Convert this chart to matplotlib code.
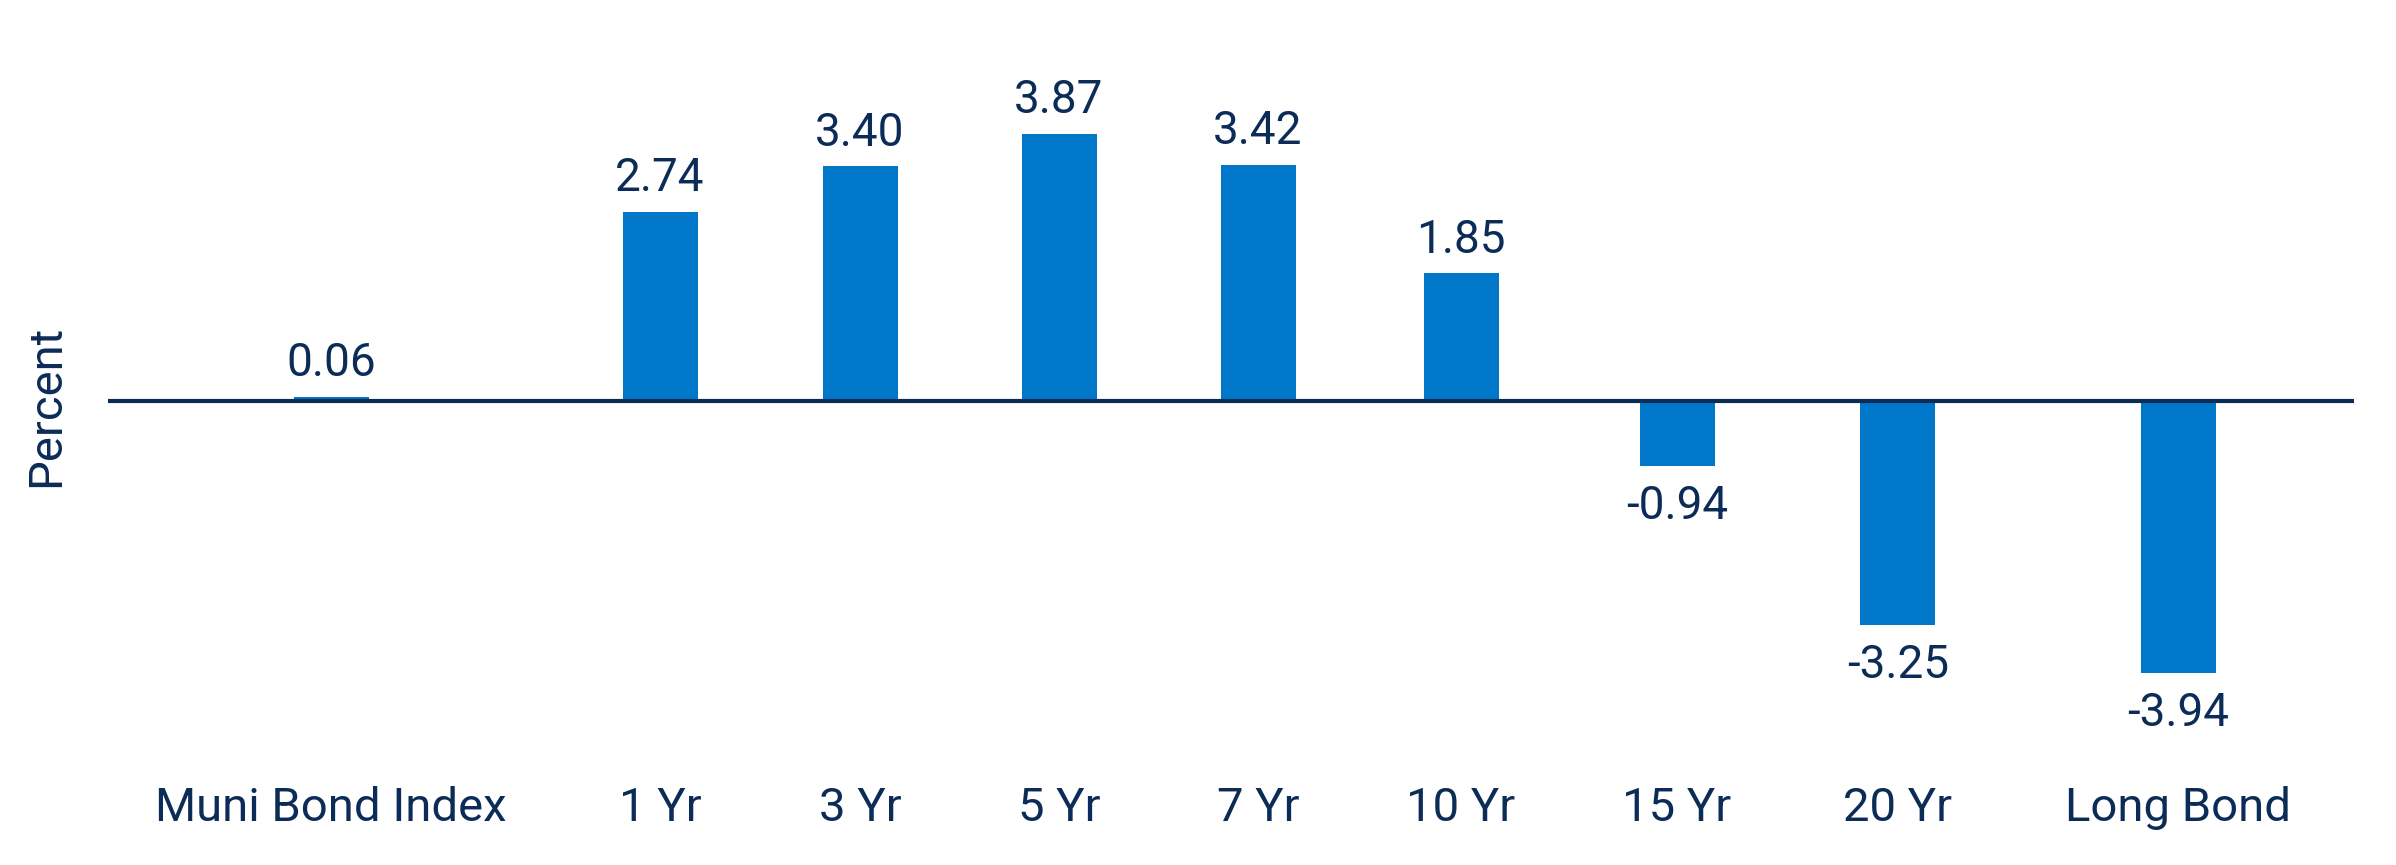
import matplotlib
matplotlib.use("Agg")
from matplotlib import pyplot as plt
import numpy as np

# data
categories = ['Muni Bond Index', '1 Yr', '3 Yr', '5 Yr', '7 Yr', '10 Yr', '15 Yr', '20 Yr', 'Long Bond']
values = [0.06, 2.74, 3.40, 3.87, 3.42, 1.85, -0.94, -3.25, -3.94]
value_labels = ['0.06', '2.74', '3.40', '3.87', '3.42', '1.85', '-0.94', '-3.25', '-3.94']

# layout: spacing between neighbouring category slots (the source chart is not evenly spaced)
slot_gaps = [1.645, 1.0, 0.995, 0.995, 1.015, 1.08, 1.105, 1.40]
bar_width = 0.375

BAR = '#0077c8'
NAVY = '#0c2c58'

plt.rcParams['font.family'] = ['Roboto', 'DejaVu Sans']

fig = plt.figure(figsize=(23.96, 8.65), dpi=100)
ax = fig.add_axes([108 / 2396, 145 / 865, (2354 - 108) / 2396, 720 / 865])

x = np.concatenate([[0.0], np.cumsum(slot_gaps)])
bars = ax.bar(x, values, width=bar_width, color=BAR, zorder=2)
ax.axhline(0, color=NAVY, lw=3, zorder=3)

for xi, v, lab in zip(x, values, value_labels):
    if v >= 0:
        ax.annotate(lab, (xi, v), xytext=(0, 15), textcoords='offset points',
                    ha='center', va='baseline', fontsize=33, color=NAVY)
    else:
        ax.annotate(lab, (xi, v), xytext=(0, -13), textcoords='offset points',
                    ha='center', va='top', fontsize=33, color=NAVY)

ax.set_xlim(-1.115, 10.115)
ax.set_ylim(-4.62, 5.81)
ax.set_xticks(x)
ax.set_xticklabels(categories, fontsize=34, color=NAVY)
ax.tick_params(axis='x', length=0, pad=73)
for t in ax.get_xticklabels():
    t.set_va('baseline')
ax.set_yticks([])
for s in ax.spines.values():
    s.set_visible(False)

fig.text(46 / 2396, 1 - 406 / 865, 'Percent', rotation=90, ha='center', va='center',
         fontsize=34, color=NAVY)

plt.savefig('out.png', dpi=100)
